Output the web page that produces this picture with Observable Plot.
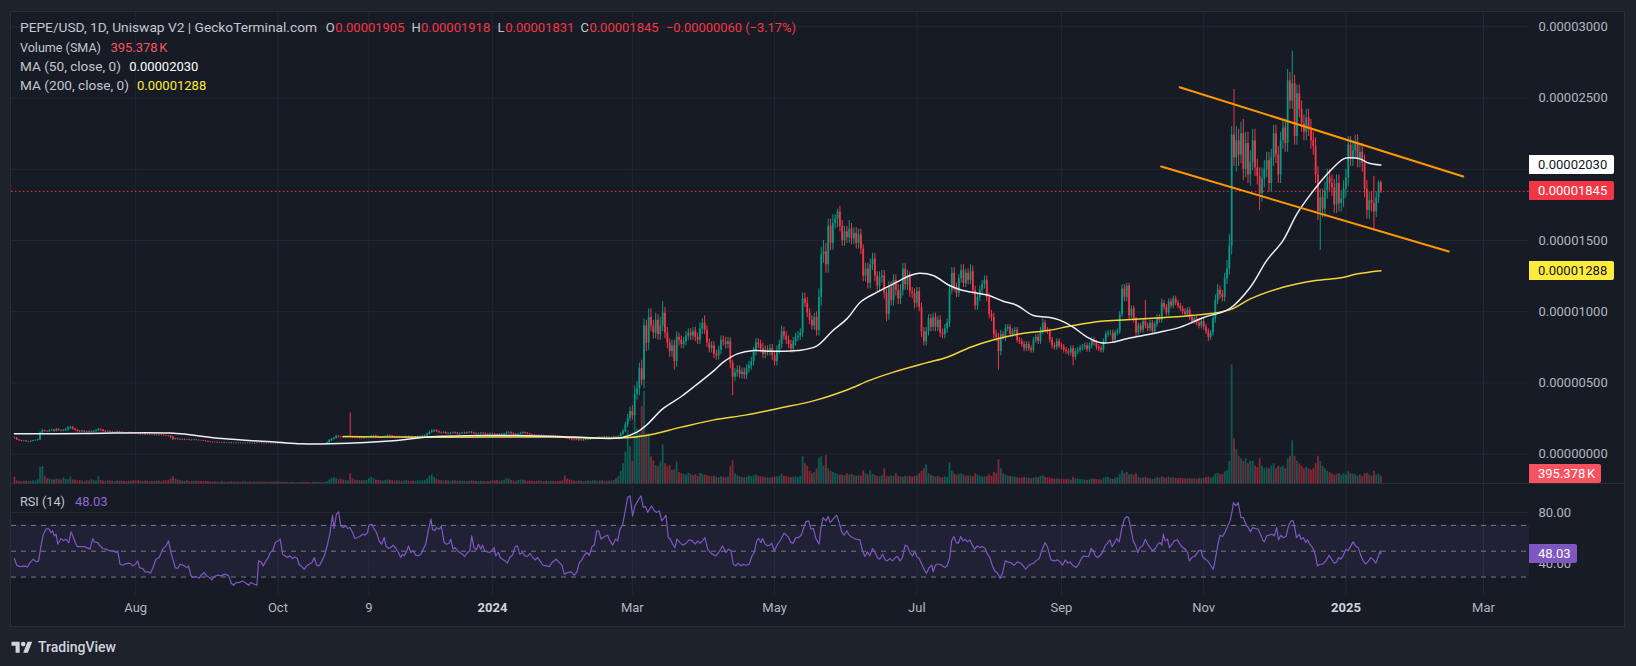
<!DOCTYPE html>
<html><head><meta charset="utf-8">
<script src="https://cdn.jsdelivr.net/npm/d3@7"></script>
<script src="https://cdn.jsdelivr.net/npm/@observablehq/plot@0.6"></script>
<style>
body{margin:0;background:#1e222d;width:1636px;height:666px;overflow:hidden;font-family:Roboto,"Noto Sans",sans-serif;position:relative;}
#frame{position:absolute;left:10px;top:11px;width:1615px;height:616px;background:#171b26;border:1px solid #2a2e39;box-sizing:border-box;}
.layer{position:absolute;left:0;top:0;}
.layer svg{display:block;}
.sep{position:absolute;left:10px;top:483px;width:1615px;height:1px;background:#2a2e39;}
.lg{position:absolute;font-size:13px;line-height:16px;white-space:nowrap;color:#c3c6ce;transform-origin:0 50%;}
.box{position:absolute;left:1529px;height:19px;line-height:19px;font-size:13px;padding-left:9px;box-sizing:border-box;white-space:nowrap;border-radius:0 2px 2px 0;}
</style></head>
<body>
<div id="frame"></div>
<div class="sep"></div>
<div id="grid" class="layer"></div>
<div id="vol" class="layer"></div>
<div id="price" class="layer"></div>
<div id="rsi" class="layer" style="top:483px"></div>
<div id="legend"></div>
<div id="boxes"></div>
<div id="logo" style="position:absolute;left:10px;top:639px;height:16px;display:flex;align-items:center;gap:4px;color:#d1d4dc;font-size:14px;font-weight:500;">
<svg width="24" height="14" viewBox="0 0 36 24"><path d="M14 22H7V10H0V3h14v19Z" fill="#d1d4dc"/><circle cx="20" cy="7" r="4" fill="#d1d4dc"/><path d="M28 22h-8l7.5-19h8L28 22Z" fill="#d1d4dc"/></svg><span>TradingView</span></div>
<script>
// ---------- DATA (prices in units of 1e-8 USD, volumes in K) ----------
const startDate = "2023-06-10";
const firstOpen = 115;
const close2023 = [
 // Jun
 112,100,94,90,92,88,86,90,94,96,100,148,165,160,158,165,168,160,172,166,162,
 // Jul
 165,170,182,188,176,168,160,158,162,156,152,158,155,160,164,172,168,160,156,158,154,150,152,156,153,150,148,146,150,147,144,
 // Aug
 142,140,138,141,137,135,138,136,133,131,134,132,130,128,126,120,105,108,104,100,102,99,101,98,96,100,97,95,94,92,90,
 // Sep
 86,84,82,83,80,79,81,78,77,79,76,75,77,76,74,75,77,76,75,74,76,78,77,75,74,76,75,74,73,75,
 // Oct
 74,73,72,73,71,70,72,71,69,70,72,71,70,69,71,70,72,73,71,70,72,80,95,105,112,125,120,118,114,116,120,
 // Nov
 118,115,113,116,112,110,114,117,120,125,128,122,118,116,120,124,130,127,122,119,121,118,116,120,123,121,118,117,120,122,
 // Dec
 124,126,130,140,152,160,165,158,150,148,152,145,142,147,150,146,140,144,148,145,150,153,148,144,140,142,146,143,140,138,142
];
const close2024a = [
 // Jan
 140,136,132,138,135,140,148,150,144,138,136,140,145,150,146,140,135,132,128,126,130,128,124,122,125,128,126,124,122,120,118,
 // Feb
 114,110,106,102,100,104,98,96,100,104,102,108,112,110,115,118,116,120,118,114,117,121,119,125,140,160,205,250,300,
 // Mar
 270,420,460,600,520,900,780,960,900,850,940,840,900,990,850,780,720,760,650,820,800,770,790,830,850,830,860,820,800,880,920,
 // Apr
 870,780,740,760,700,690,730,800,790,770,790,640,540,570,590,560,575,555,600,620,650,720,780,770,740,700,730,720,740,690,
 // May
 650,730,770,860,830,800,770,740,790,820,830,850,1090,1060,990,940,900,960,870,1100,1400,1420,1330,1600,1480,1620,1650,1700,1600,1500,1560,
 // Jun
 1520,1580,1510,1550,1480,1540,1440,1250,1300,1200,1330,1370,1250,1180,1240,1250,1130,980,1170,1080,1220,1150,1090,1150,1300,1190,1250,1140,1130,1060
];
const close2024b = [
 // Jul
 1140,1030,860,790,860,950,890,960,890,940,850,840,880,920,1150,1270,1170,1130,1230,1290,1200,1270,1220,1280,1150,1040,1100,1150,1190,1220,1100,
 // Aug
 980,960,840,820,720,840,820,880,890,840,860,870,800,790,770,740,770,740,730,800,820,790,860,920,870,860,800,760,750,790,760,
 // Sep
 750,730,720,710,740,680,720,730,745,750,760,735,760,800,780,750,740,730,790,840,850,850,800,850,860,980,1160,1100,1180,970,
 // Oct
 1020,940,850,900,870,930,900,880,920,860,910,960,940,1060,1030,990,1070,1040,1090,1060,1040,1020,1000,980,1010,960,930,950,920,900,930,
 // Nov
 890,860,820,850,950,1080,1150,1120,1100,1230,1300,1460,2240,2080,2200,2100,2250,2000,2180,1960,2050,2200,2010,1950,1830,1930,2000,2060,1900,2080,
 // Dec
 2250,2100,1960,2200,2290,2180,2620,2480,2600,2230,2530,2420,2320,2260,2360,2290,2200,2160,1960,1700,1800,1720,1850,1940,1900,1870,1750,1900,1760,1790,1860
];
const close2025 = [1940,2170,2080,2130,2180,2070,2120,2040,1860,1710,1780,1760,1700,1800,1905,1845];

const wickUp2023 = [
 6,4,3,3,4,3,3,4,3,4,5,8,10,6,5,7,6,8,9,6,5,
 8,10,12,8,6,6,5,6,5,5,6,5,6,7,8,9,6,5,5,6,5,5,6,5,5,6,5,4,5,4,5,
 4,5,4,4,4,4,4,4,4,4,4,4,4,4,4,5,6,5,4,4,4,4,4,3,3,4,3,3,3,3,3,
 3,3,4,3,3,3,3,3,3,3,3,3,3,3,3,3,3,3,3,3,3,3,3,3,3,3,3,3,3,3,
 3,3,3,3,3,3,3,3,3,3,3,3,3,3,3,3,3,3,3,3,3,6,8,6,6,8,5,5,5,5,6,
 170,6,5,5,5,5,5,5,6,7,6,5,5,5,6,7,6,5,5,5,5,5,5,5,5,5,5,5,5,5,
 5,5,6,8,10,12,8,6,6,6,6,6,6,6,6,6,6,6,6,6,6,6,6,6,6,6,6,6,6,6,6
];
const wickDn2023 = [
 5,4,4,3,3,3,4,3,3,3,4,4,5,5,4,5,4,5,4,5,4,
 5,6,7,8,6,5,5,5,6,5,5,5,5,5,6,6,7,6,5,5,5,5,5,5,5,5,5,5,4,4,5,
 4,4,4,4,4,4,4,4,4,4,4,4,4,5,6,12,10,6,5,5,4,4,4,4,4,3,3,3,3,3,4,
 3,4,3,3,3,3,3,3,3,3,3,3,3,3,3,3,3,3,3,3,3,3,3,3,3,3,3,3,3,3,
 3,3,3,3,3,3,3,3,3,3,3,3,3,3,3,3,3,3,3,3,3,3,4,5,5,5,6,5,4,4,4,
 5,5,5,5,5,5,5,5,5,5,5,5,5,5,5,5,5,5,5,5,5,5,5,5,5,5,5,5,5,5,
 5,5,5,6,6,6,8,6,6,6,6,6,6,6,6,6,6,6,6,6,6,6,6,6,6,6,6,6,6,6,6
];
const wickUp2024a = [
 6,6,6,6,6,8,10,8,6,6,6,6,8,8,6,6,6,6,6,6,6,6,6,6,6,6,6,6,6,6,6,
 5,5,5,5,5,5,5,5,5,5,5,5,5,5,5,5,5,5,5,5,5,5,5,5,10,15,20,30,30,
 40,60,50,40,60,50,40,60,60,40,50,40,60,80,40,40,30,40,40,40,30,30,30,30,30,30,30,30,30,40,30,
 50,30,30,30,30,30,30,30,30,30,30,30,20,30,30,30,30,30,30,30,30,30,30,30,30,40,30,30,30,30,
 30,30,30,40,30,30,30,30,30,30,30,30,40,40,40,30,30,30,40,60,50,80,60,50,50,60,30,20,40,40,40,
 40,60,40,40,40,40,40,30,40,40,40,40,40,30,40,40,40,30,40,40,40,40,40,40,40,40,40,30,30,30
];
const wickDn2024a = [
 6,6,6,6,6,6,6,6,6,6,6,6,6,6,6,6,6,6,6,6,6,6,6,6,6,6,6,6,6,6,6,
 6,6,6,8,8,6,8,6,6,6,6,6,6,6,6,6,6,6,6,6,6,6,6,6,6,8,10,20,20,
 30,40,40,50,40,60,60,50,40,40,40,40,40,40,40,40,40,40,60,40,40,30,30,30,30,30,30,30,30,30,40,
 30,30,30,30,30,30,30,30,30,30,30,40,128,30,30,30,30,30,30,30,30,30,30,30,30,30,30,30,30,30,
 30,30,30,30,30,30,30,30,30,30,30,30,30,30,30,30,30,30,40,40,60,60,60,60,50,50,40,60,40,40,40,
 40,40,40,40,40,40,40,40,40,40,40,40,40,40,40,40,40,50,40,40,40,40,40,40,40,40,40,40,40,40
];
const wickUp2024b = [
 30,30,30,30,30,30,30,30,30,30,30,30,30,30,40,40,40,30,30,40,40,30,30,50,40,30,30,30,30,30,30,
 30,30,30,30,30,30,20,30,20,20,20,20,20,20,20,20,20,20,20,20,20,20,30,30,20,20,20,20,20,20,20,
 20,20,20,20,20,20,20,20,20,20,20,20,20,20,20,20,20,20,20,20,20,20,20,20,20,20,30,30,20,20,
 20,20,20,20,20,20,150,20,20,20,20,20,20,30,20,20,20,20,20,20,20,20,20,20,20,20,20,20,20,20,20,
 20,20,20,20,30,40,40,30,30,40,60,80,60,320,100,80,80,100,80,80,80,80,80,60,60,80,60,60,60,60,
 60,60,60,60,60,60,80,60,230,60,60,60,60,60,60,60,60,60,60,60,60,60,60,60,60,60,60,60,60,60,60
];
const wickDn2024b = [
 30,30,40,30,30,30,30,30,30,30,30,30,30,30,30,30,30,30,30,30,30,30,30,30,30,30,30,30,30,30,30,
 30,30,30,30,130,30,20,30,20,20,20,20,20,20,20,20,20,20,20,20,20,20,20,20,20,20,20,20,20,20,20,
 20,20,20,20,20,60,20,20,20,20,20,20,20,20,20,20,20,20,20,20,20,20,20,20,20,20,20,30,30,30,
 20,20,30,20,20,20,20,20,20,20,20,20,20,20,20,20,20,20,20,20,20,20,20,20,20,20,20,20,20,20,20,
 20,20,30,20,20,30,30,30,30,30,40,40,60,60,100,80,60,80,60,60,80,60,60,60,120,60,60,60,60,60,
 60,60,60,60,60,60,60,60,60,60,60,60,60,60,60,60,60,60,60,60,270,60,60,60,60,60,60,60,60,60,60
];
const wickUp2025 = [60,60,60,60,60,60,60,60,60,60,60,60,190,40,13,13];
const wickDn2025 = [60,60,60,60,60,60,60,60,60,60,60,60,130,40,40,14];

const volume2023 = [
 270,120,100,90,110,100,90,100,120,110,160,650,690,300,200,180,160,150,200,170,150,
 220,180,160,260,150,140,120,130,110,100,120,110,160,120,110,280,130,110,100,120,110,100,90,110,100,100,90,80,110,100,120,
 110,120,100,90,100,110,90,100,90,110,100,90,120,110,130,200,280,180,150,120,110,100,120,90,100,90,110,100,90,80,100,
 90,80,70,80,70,60,80,70,60,70,80,70,60,70,60,70,80,60,70,60,70,60,80,70,60,70,60,60,70,80,
 70,60,50,60,50,50,60,50,40,50,50,60,50,50,40,50,60,50,50,40,50,80,150,220,240,200,160,180,150,130,120,
 400,200,150,140,130,120,130,140,200,260,200,150,130,120,110,130,150,140,120,110,120,110,100,110,120,110,100,110,100,120,
 110,120,130,200,300,360,250,180,140,120,110,120,110,100,120,110,100,110,100,100,90,100,110,100,90,90,100,90,80,90,100
];
const volume2024a = [
 120,110,130,100,110,140,200,180,130,110,100,120,140,150,120,100,110,100,90,100,110,100,90,100,90,100,90,80,90,100,120,
 320,180,150,120,110,100,110,100,90,100,110,100,120,110,100,110,120,100,110,100,120,130,200,300,500,800,1270,2130,1500,
 900,2530,2200,2000,3100,3690,2000,2000,1080,920,730,670,870,1560,800,670,730,530,560,870,450,400,380,350,420,380,330,360,300,420,380,
 350,320,300,280,300,260,240,280,260,250,270,680,920,400,320,280,250,240,260,300,280,320,350,300,280,260,250,240,220,250,
 260,280,300,380,300,280,260,240,260,280,250,300,1080,800,700,500,400,450,600,1000,1080,700,1120,600,500,450,420,380,350,340,320,
 400,350,380,330,300,320,300,520,400,350,520,380,340,300,280,320,600,300,280,320,300,400,300,280,260,300,280,300,270,300
];
const volume2024b = [
 320,400,500,600,760,400,350,300,280,300,260,240,280,250,840,500,400,350,380,400,350,300,320,300,280,400,350,300,280,270,300,
 350,300,450,400,960,600,400,350,300,300,280,260,240,220,230,250,240,220,200,230,260,240,300,320,260,240,220,200,190,200,180,
 180,170,160,170,150,260,200,180,170,160,150,140,160,200,180,170,160,150,220,260,250,200,180,220,250,360,520,400,450,360,
 380,350,400,260,220,240,260,220,200,180,200,240,220,280,240,220,260,220,240,220,200,220,200,190,200,210,190,200,180,220,200,
 220,240,280,220,260,380,420,360,380,480,520,900,4760,1800,1360,1100,1000,900,1000,800,900,900,700,650,1000,700,600,650,600,700,
 800,600,700,650,700,600,1000,1100,1720,1100,900,800,700,600,650,600,550,600,800,1100,900,700,600,500,450,400,350,380,400,350,400
];
const volume2025 = [350,500,400,380,360,300,350,300,400,420,350,300,500,350,400,300];

// moving averages: day offset from startDate, value (1e-8)
const ma50Day = [0,30,67,89,113,123,135,164,177,205,215,240,260,267,271,278,286,293,300,304,310,317,323,336,344,351,357,363,370,377,384,388,394,401,406,413,418,424,430,437,443,448,454,460,466,471,477,484,491,500,510,521,530,537,544,550,556,563,570,573,577,581,586];
const ma50Val = [143,145,148,110,84,73,73,96,120,131,131,120,115,155,203,318,405,494,587,646,704,728,723,728,758,868,950,1070,1137,1195,1254,1270,1254,1184,1153,1130,1114,1074,1044,973,962,943,892,822,782,786,810,833,856,892,960,1020,1172,1359,1499,1687,1827,1967,2073,2080,2073,2042,2030];
const ma200Day = [141,164,205,231,260,271,286,300,314,328,343,357,367,377,391,400,410,420,431,443,454,466,477,488,500,521,530,544,558,569,576,586];
const ma200Val = [124,120,120,120,113,131,190,241,276,323,376,451,520,576,641,681,751,803,844,868,903,933,943,955,966,1013,1090,1172,1219,1238,1266,1288];

// descending channel (day offset, price 1e-8)
const channelUpper = [[499.7,2576],[621.3,1949]];
const channelLower = [[491.8,2019],[615.1,1423]];

// RSI (14): [day offset, value]
const rsi2023 = [[0,44.3],[1,39.1],[2.1,38.1],[4.3,38.4],[5.7,37.9],[6.7,41.2],[8.1,43.8],[9.3,41.7],[10.4,42.5],[11.4,54.1],[12.4,63.2],[13.6,67.1],[14.6,67.6],[15.7,64.5],[16.4,65.8],[17.1,61.9],[17.9,63.2],[18.6,55.4],[20,59.8],[21.1,58],[22.1,59.3],[23.3,56.7],[24.3,65],[25.3,60.6],[26.4,55.4],[27.1,53.6],[28.6,53.6],[30,53.6],[31,52.8],[32.4,51.6],[33.6,59.8],[34.3,57.2],[35.7,56.7],[36.7,54.1],[37.9,52.1],[39.3,51.6],[40.7,50.3],[42.1,50.3],[43.6,49],[44.3,50.3],[45.3,39.9],[46.4,39.1],[47.9,40.4],[49.6,40.7],[50.7,38.6],[51.9,39.9],[52.9,42.5],[53.6,37.3],[55,36.6],[56.1,34],[57.4,34],[58.3,32.9],[59.3,36.6],[60.7,43.8],[62.1,45.1],[63.6,51.6],[65,54.1],[66.1,58],[67.1,49],[67.9,44.3],[69,37.3],[70,36.6],[71.1,39.9],[72.9,38.6],[73.9,37.3],[74.7,38.6],[75.7,30.9],[76.7,29.6],[77.9,30.4],[79.3,29.1],[80,31.4],[80.7,32.2],[81.4,33.5],[82.4,30.9],[83.6,29.6],[84.7,27.8],[85.7,30.4],[87.1,31.4],[88.6,30.9],[90.4,32.2],[91.9,30.9],[93,25.2],[94,23.6],[95,25.7],[96.4,25.7],[97.9,27],[99.3,25.2],[100.4,23.6],[101.4,25.7],[102.9,24.4],[104,23.6],[104.7,42.5],[105.7,41.7],[106.7,38.6],[107.9,42.5],[108.9,45.1],[109.7,49],[110.7,50.3],[111.9,56.7],[113,58],[114,59.3],[115,47.7],[116.1,46.4],[117.1,45.1],[118.1,46.4],[119.3,44.3],[120.3,45.6],[121.3,44.3],[122.1,39.9],[122.9,38.6],[124.3,36],[125.3,38.6],[126.4,39.9],[127.6,41.2],[128.6,45.1],[129.6,39.1],[130.7,38.6],[131.9,42.5],[132.9,46.4],[134.3,55.4],[135.4,64.5],[136.4,77.9],[137.1,67.6],[138.1,78.7],[139,80.5],[140,69.6],[141,68.3],[142.1,69.6],[142.9,67.6],[143.9,68.3],[145,64.5],[146,59.8],[147.1,60.6],[148.1,61.4],[149.3,63.2],[150.4,62.4],[151.4,64.5],[152.1,70.2],[153.3,70.9],[154.3,67.1],[155.3,64.5],[156.4,58],[157.4,55.4],[158.6,60.6],[159.3,54.1],[160.4,52.1],[161.4,52.8],[162.4,54.7],[163.6,52.1],[164.7,49],[165.7,45.1],[166.4,47.7],[167.1,46.4],[168.1,49.5],[169,54.1],[170,49],[171,50.3],[172.1,46.9],[173.3,46.4],[174.3,47.7],[175.3,51.6],[176.4,55.4],[177.6,67.1],[178.6,74.8],[179.3,67.1],[180.3,65.8],[181,68.3],[182.1,67.1],[183.1,69.1],[184.3,56.7],[185.3,55.4],[186.4,56.2],[187.1,59.3],[188.1,51.6],[189,52.8],[190,50.3],[191,49],[192.1,47.7],[193.1,45.9],[194.3,49],[195.3,50.3],[196.1,61.9],[197.1,52.8],[198.1,51],[199,55.4],[200,51.6],[200.7,54.7],[201.7,50.3],[202.9,49.5],[203.9,49]];
const rsi2024a = [[204.7,50.3],[205.7,52.8],[206.4,46.4],[207.6,49],[208.3,45.1],[209.3,43.8],[210.4,42.5],[211.4,40.7],[212.4,45.1],[213.6,46.9],[214.7,53.6],[215.7,54.1],[216.7,47.7],[217.9,49],[219,46.4],[220.1,45.9],[221.1,48.4],[222.3,45.1],[223.4,43.3],[224.4,45.1],[225.4,42.5],[226.6,39.1],[228,38.6],[229.4,38.1],[230.8,41.7],[232.3,43.8],[233.7,41.2],[234.8,39.1],[235.8,32.2],[237.3,33.5],[238.7,34],[240.1,31.4],[241.1,33.5],[242.3,41.2],[243.3,43.3],[244.4,46.9],[245.4,49],[246.6,46.9],[247.7,53.6],[248.7,54.7],[249.7,65.8],[250.6,65.8],[251.6,59.3],[253,61.4],[254.4,62.4],[255.4,58],[256.6,54.7],[257.7,59.3],[258.7,58],[259.7,67.1],[260.8,70.2],[261.8,80],[263,91.6],[264,92.9],[265.1,77.4],[266.1,85.1],[267.3,89],[268.7,92.9],[269.7,83.9],[270.6,84.6],[271.6,80],[272.3,82.6],[273.3,85.1],[274.4,81.3],[275.4,80],[276.6,81.3],[277.6,73.5],[278.7,76.1],[279.4,77.9],[280.4,60.6],[281.3,59.3],[282.3,55.4],[283.3,52.8],[284.1,59.3],[285.1,57.2],[286.6,54.7],[288,56.2],[289.4,58.8],[290.8,58],[292,55.4],[293,58],[294,56.2],[295.1,58],[296.1,60.6],[297.3,51.6],[298.4,49],[299.4,47.7],[300.8,46.4],[302,49],[303.7,54.1],[305.1,49],[306.3,51.6],[307.3,50.3],[308.3,39.9],[309.4,38.6],[310.4,40.7],[311.6,38.6],[312.6,39.9],[313.7,39.1],[315.1,39.9],[316.3,46.4],[317.3,49],[318.3,58],[319.1,59.8],[320.1,56.7],[320.8,59.8],[322,55.4],[323,54.1],[324,54.7],[324.8,56.2],[325.8,50.3],[327.3,55.4],[328.7,59.3],[330.1,64],[331.1,62.4],[332,60.6],[333,56.7],[334,56.2],[335.1,60.6],[336.3,60.6],[337.4,62.4],[338.3,67.1],[339.4,72.7],[340.6,73.5],[341.6,67.1],[342.6,67.6],[343.7,59.8],[345.1,55.4],[345.8,67.1],[346.8,76.1],[348,73.5],[349,76.9],[349.8,72.2],[351.1,74.8],[352.6,77.9],[353.7,72.2],[354.8,65],[355.8,62.4],[357,65.8],[358,62.4],[359.4,60.6],[360.8,59.3],[362.6,58.8],[363.7,50.3],[364.7,45.9],[365.8,49.5],[366.8,46.4],[368,52.1],[369.1,49],[370.1,45.1],[371.1,43.8],[372.3,47.7],[373.4,43.3],[374.4,42.5],[375.4,44.3],[376.6,42.5],[377.7,45.1],[378.7,45.9],[379.7,42.5],[380.8,45.1],[382,54.7],[383,53.6],[384,49],[385.1,46.4],[386.1,49.5]];
const rsi2024b = [[387,45.9],[388,44.3],[389.1,39.9],[390.1,36],[391.1,32.9],[392.3,37.3],[393.4,39.1],[394,34],[394.9,39.1],[395.8,39.9],[396.9,39.9],[398,38.6],[399.1,37.3],[400.1,39.1],[401.1,45.1],[401.9,58],[402.9,61.4],[403.9,56.7],[404.8,56.2],[405.8,61.4],[406.8,58],[407.7,59.3],[408.7,57.2],[409.7,58.8],[410.8,54.7],[411.8,51.6],[412.9,54.1],[414,52.8],[415.1,53.6],[416.3,52.1],[417.3,47.7],[418.3,45.1],[419.4,38.6],[420.4,34.8],[421.6,32.9],[422.7,28.8],[423.7,32.9],[424.9,42.5],[425.9,41.7],[427.3,41.2],[428.7,39.1],[430.1,41.7],[431.6,40.7],[432.6,38.6],[433.7,36],[434.8,38.6],[435.8,39.9],[437,40.7],[438.1,42.5],[439.5,44.3],[440.5,50.3],[442,56.7],[443.1,52.8],[444.5,43.3],[446,42.5],[447.4,43.3],[448.4,41.7],[449.5,39.1],[450.7,43.3],[451.7,40.7],[452.7,41.7],[453.8,39.1],[455.3,37.3],[456.4,39.9],[457.4,43.8],[458.5,46.4],[459.5,45.9],[460.7,45.9],[461.7,52.1],[462.7,50.3],[463.5,46.4],[464.5,45.1],[465.5,46.4],[466.7,49.5],[467.7,54.1],[468.8,56.2],[469.8,58.8],[470.7,53.6],[471.7,56.2],[472.7,59.8],[473.8,57.2],[474.8,67.1],[476,74.8],[477,76.9],[477.8,76.1],[478.8,67.1],[479.8,58],[481,53.6],[481.7,49],[482.7,52.8],[483.8,54.1],[485,59.3],[486,55.4],[487,52.8],[488.1,50.3],[489.3,52.1],[490.3,55.4],[491.3,56.7],[492.1,54.7],[492.7,63.2],[493.5,58],[494.5,59.3],[495.3,52.8],[496.4,55.4],[497.4,58],[498.8,58.8],[499.8,55.4],[501,52.8],[502.1,51.6],[503.1,49],[503.8,42.5],[505,45.1],[506.4,46.4],[507.8,50.3],[508.8,50.8],[509.5,45.9],[510.7,43.8],[511.7,42.5],[512.7,39.9],[514.1,36],[515,43.8],[516,54.1],[517,62.4],[518.1,61.4],[519.1,64.5],[520.3,69.6],[521.3,73.5],[522.1,80],[522.8,87.7],[523.8,85.1],[524.8,87.7],[526,76.1],[527,76.1],[528.1,70.9],[529.1,68.3],[530.1,65],[531,68.3],[532.1,67.6],[533.3,67.1],[534.1,64.5],[535.3,58.8],[536,57.2],[537,61.9],[538.1,62.4],[539.3,63.2],[540.3,61.9],[541.3,68.3],[542.1,58.8],[543.1,62.4],[544.1,60.6],[545.3,61.4],[546.4,69.6],[547.4,73.5],[548.4,73.5],[549.3,65.8],[549.8,60.6],[551,63.2],[551.7,59.3],[552.7,60.6],[553.8,56.7],[554.5,58.8],[555.5,55.4],[556.7,52.8],[557.8,47.7],[558.8,38.6],[559.8,39.9],[561,39.9],[562.4,42.5],[563.8,46.9],[565,43.3],[566,40.7],[567,41.7],[567.8,45.1],[568.8,43.8],[569.8,46.4],[571,51.6],[572,50.3],[573.1,54.1],[574.1,57.2],[575.3,53.6],[576.3,52.8],[577.4,46.4],[578.4,42.5],[579.5,39.9],[580.7,42.5],[581.7,45.1],[582.8,43.3],[583.8,40.7],[585,46.4],[585.6,50.3],[586,48.03]];

// axis ticks (the 0.00002000 label sits under the MA(50) value box in the reference)
const priceTicks = [0, 5e-6, 1e-5, 1.5e-5, 2e-5, 2.5e-5, 3e-5];
const priceTickLabelsShown = [0, 5e-6, 1e-5, 1.5e-5, 2.5e-5, 3e-5];
const timeTickDates = ["2023-08-01","2023-10-01","2023-11-09","2024-01-01","2024-03-01","2024-05-01","2024-07-01","2024-09-01","2024-11-01","2025-01-01","2025-03-01"];
const timeTickLabels = ["Aug","Oct","9","2024","Mar","May","Jul","Sep","Nov","2025","Mar"];
const rsiTicks = [80, 40];
const lastValues = {ma50: 2030, close: 1845, ma200: 1288, volSMA: 395.378, rsi: 48.03};

// ---------- BUILD ----------
const U = 1e-8;
const start = new Date(startDate + "T00:00:00Z");
const dayToDate = d => new Date(start.getTime() + d * 864e5);
const closes = [].concat(close2023, close2024a, close2024b, close2025);
const wickUp = [].concat(wickUp2023, wickUp2024a, wickUp2024b, wickUp2025);
const wickDn = [].concat(wickDn2023, wickDn2024a, wickDn2024b, wickDn2025);
const volumes = [].concat(volume2023, volume2024a, volume2024b, volume2025);
const lastIdx = closes.length - 1;

const candles = closes.map((c, i) => {
  const o = i ? closes[i - 1] : firstOpen;
  return {
    date: dayToDate(i),
    open: o * U, close: c * U,
    high: (Math.max(o, c) + (wickUp[i] ?? 0)) * U,
    low: (Math.min(o, c) - (wickDn[i] ?? 0)) * U,
    vol: volumes[i] ?? 0,
    up: c >= o
  };
});
const ma50 = ma50Day.map((d, i) => ({date: dayToDate(d), v: ma50Val[i] * U}));
const ma200 = ma200Day.map((d, i) => ({date: dayToDate(d), v: ma200Val[i] * U}));
const chU = channelUpper.map(([d, p]) => ({date: dayToDate(d), v: p * U}));
const chL = channelLower.map(([d, p]) => ({date: dayToDate(d), v: p * U}));
const rsiPts = [].concat(rsi2023, rsi2024a, rsi2024b).map(([d, v]) => ({date: dayToDate(d), v}));
const tDates = timeTickDates.map(s => new Date(s + "T00:00:00Z"));
const tTicks = tDates.map((d, i) => ({date: d, label: timeTickLabels[i], bold: /^\d{4}$/.test(timeTickLabels[i])}));

const GREEN = "#089981", RED = "#f23645", GRID = "#232733";
const fmt8 = d3.format(".8f");
const mkStyle = () => ({background: "transparent", color: "#b2b5be", fontFamily: "Roboto, 'Noto Sans', sans-serif", fontSize: "13px", overflow: "visible"});
const X = () => ({type: "utc", domain: [start, dayToDate(lastIdx)], range: [13.9, 1380.4], axis: null});
const YP = () => ({domain: [0, 3e-5], range: [453.7, 26.3], axis: null});
const frameMain = {width: 1636, height: 483, marginLeft: 11, marginRight: 107, marginTop: 12, marginBottom: 0};

const gridPlot = Plot.plot({...frameMain, style: mkStyle(), x: X(), y: YP(), marks: [
  Plot.ruleX(tDates, {stroke: GRID}),
  Plot.ruleY(priceTicks, {stroke: GRID}),
  Plot.text(priceTickLabelsShown, {y: d => d, text: d => fmt8(d), frameAnchor: "right", textAnchor: "start", dx: 9, fill: "#b2b5be"})
]});
document.getElementById("grid").append(gridPlot);

const volPlot = Plot.plot({...frameMain, style: mkStyle(), x: X(), y: {domain: [0, 5000], range: [483.3, 358.3], axis: null}, marks: [
  Plot.ruleX(candles, {x: "date", y1: () => 0, y2: "vol", stroke: d => d.up ? "rgba(8,153,129,0.5)" : "rgba(242,54,69,0.5)", strokeWidth: 1.8})
]});
document.getElementById("vol").append(volPlot);

const pricePlot = Plot.plot({...frameMain, style: mkStyle(), x: X(), y: YP(), marks: [
  Plot.ruleY([lastValues.close * U], {stroke: RED, strokeDasharray: "1.5,2.5", strokeWidth: 1}),
  Plot.ruleX(candles, {x: "date", y1: "low", y2: "high", stroke: d => d.up ? GREEN : RED, strokeWidth: 1}),
  Plot.ruleX(candles, {x: "date", y1: "open", y2: "close", stroke: d => d.up ? GREEN : RED, strokeWidth: 1.8}),
  Plot.line(ma200, {x: "date", y: "v", stroke: "#f2d43b", strokeWidth: 1.5, curve: "catmull-rom"}),
  Plot.line(ma50, {x: "date", y: "v", stroke: "#eceff5", strokeWidth: 1.5, curve: "catmull-rom"}),
  Plot.line(chU, {x: "date", y: "v", stroke: "#ff9800", strokeWidth: 2}),
  Plot.line(chL, {x: "date", y: "v", stroke: "#ff9800", strokeWidth: 2})
]});
document.getElementById("price").append(pricePlot);

const rsiPlot = Plot.plot({width: 1636, height: 144, marginLeft: 11, marginRight: 107, marginTop: 0, marginBottom: 32,
  style: mkStyle(), x: X(), y: {domain: [0, 100], range: [132.2, 3.2], axis: null}, marks: [
  Plot.ruleX(tDates, {stroke: GRID}),
  Plot.rect([0], {y1: () => 30, y2: () => 70, fill: "rgba(126,87,194,0.1)"}),
  Plot.ruleY([40, 80], {stroke: GRID}),
  Plot.ruleY([30, 50, 70], {stroke: "#787b86", strokeDasharray: "5,5", strokeWidth: 1}),
  Plot.line(rsiPts, {x: "date", y: "v", stroke: "#7e57c2", strokeWidth: 1.2}),
  Plot.text(tTicks.filter(t => !t.bold), {x: "date", text: "label", frameAnchor: "bottom", dy: 16.7, fill: "#b2b5be"}),
  Plot.text(tTicks.filter(t => t.bold), {x: "date", text: "label", frameAnchor: "bottom", dy: 16.7, fill: "#d1d4dc", fontWeight: "bold"}),
  Plot.text(rsiTicks, {y: d => d, text: d => d.toFixed(2), frameAnchor: "right", textAnchor: "start", dx: 9, fill: "#b2b5be"})
]});
document.getElementById("rsi").append(rsiPlot);

// ---------- value boxes on the scales ----------
const boxes = document.getElementById("boxes");
function addBox(yc, text, bg, fg, w) {
  const b = document.createElement("div");
  b.className = "box";
  b.style.top = (yc - 9.5) + "px";
  b.style.width = w + "px";
  b.style.background = bg;
  b.style.color = fg;
  b.textContent = text;
  boxes.append(b);
}
const yS = pricePlot.scale("y");
addBox(yS.apply(lastValues.ma50 * U), fmt8(lastValues.ma50 * U), "#ffffff", "#131722", 85);
addBox(yS.apply(lastValues.close * U), fmt8(lastValues.close * U), RED, "#ffffff", 85);
addBox(yS.apply(lastValues.ma200 * U), fmt8(lastValues.ma200 * U), "#ffeb3b", "#131722", 85);
addBox(volPlot.scale("y").apply(lastValues.volSMA), "395.378\u202FK", "#f7525f", "#ffffff", 72);
addBox(483 + rsiPlot.scale("y").apply(lastValues.rsi), lastValues.rsi.toFixed(2), "#7e57c2", "#ffffff", 48);

// ---------- legend: [left, centre y, text, colour, width in reference] ----------
const legendItems = [
  [20, 28.3, "PEPE/USD, 1D, Uniswap V2 | GeckoTerminal.com", "#c3c6ce", 297],
  [325.8, 28.3, "O", "#c3c6ce"], [335.3, 28.3, "0.00001905", RED],
  [411.6, 28.3, "H", "#c3c6ce"], [421, 28.3, "0.00001918", RED],
  [497.4, 28.3, "L", "#c3c6ce"], [505.2, 28.3, "0.00001831", RED],
  [580.5, 28.3, "C", "#c3c6ce"], [589.4, 28.3, "0.00001845", RED],
  [665.8, 28.3, "\u22120.00000060 (\u22123.17%)", RED, 130],
  [20, 47.7, "Volume (SMA)", "#c3c6ce", 81], [110.4, 47.7, "395.378\u202FK", "#f7525f"],
  [20, 66.7, "MA (50, close, 0)", "#c3c6ce", 101], [129.2, 66.7, "0.00002030", "#ffffff"],
  [20, 85.7, "MA (200, close, 0)", "#c3c6ce", 109], [137, 85.7, "0.00001288", "#ffeb3b"],
  [20, 501.7, "RSI (14)", "#c3c6ce", 45], [75, 501.7, "48.03", "#8d68d3"]
];
const lg = document.getElementById("legend");
for (const [x, yc, t, c, w] of legendItems) {
  const s = document.createElement("div");
  s.className = "lg";
  s.style.left = x + "px";
  s.style.top = (yc - 8) + "px";
  s.style.color = c;
  s.textContent = t;
  lg.append(s);
  if (w) {
    const mw = s.getBoundingClientRect().width;
    if (mw > 0) s.style.transform = `scaleX(${w / mw})`;
  }
}
</script>
</body></html>
